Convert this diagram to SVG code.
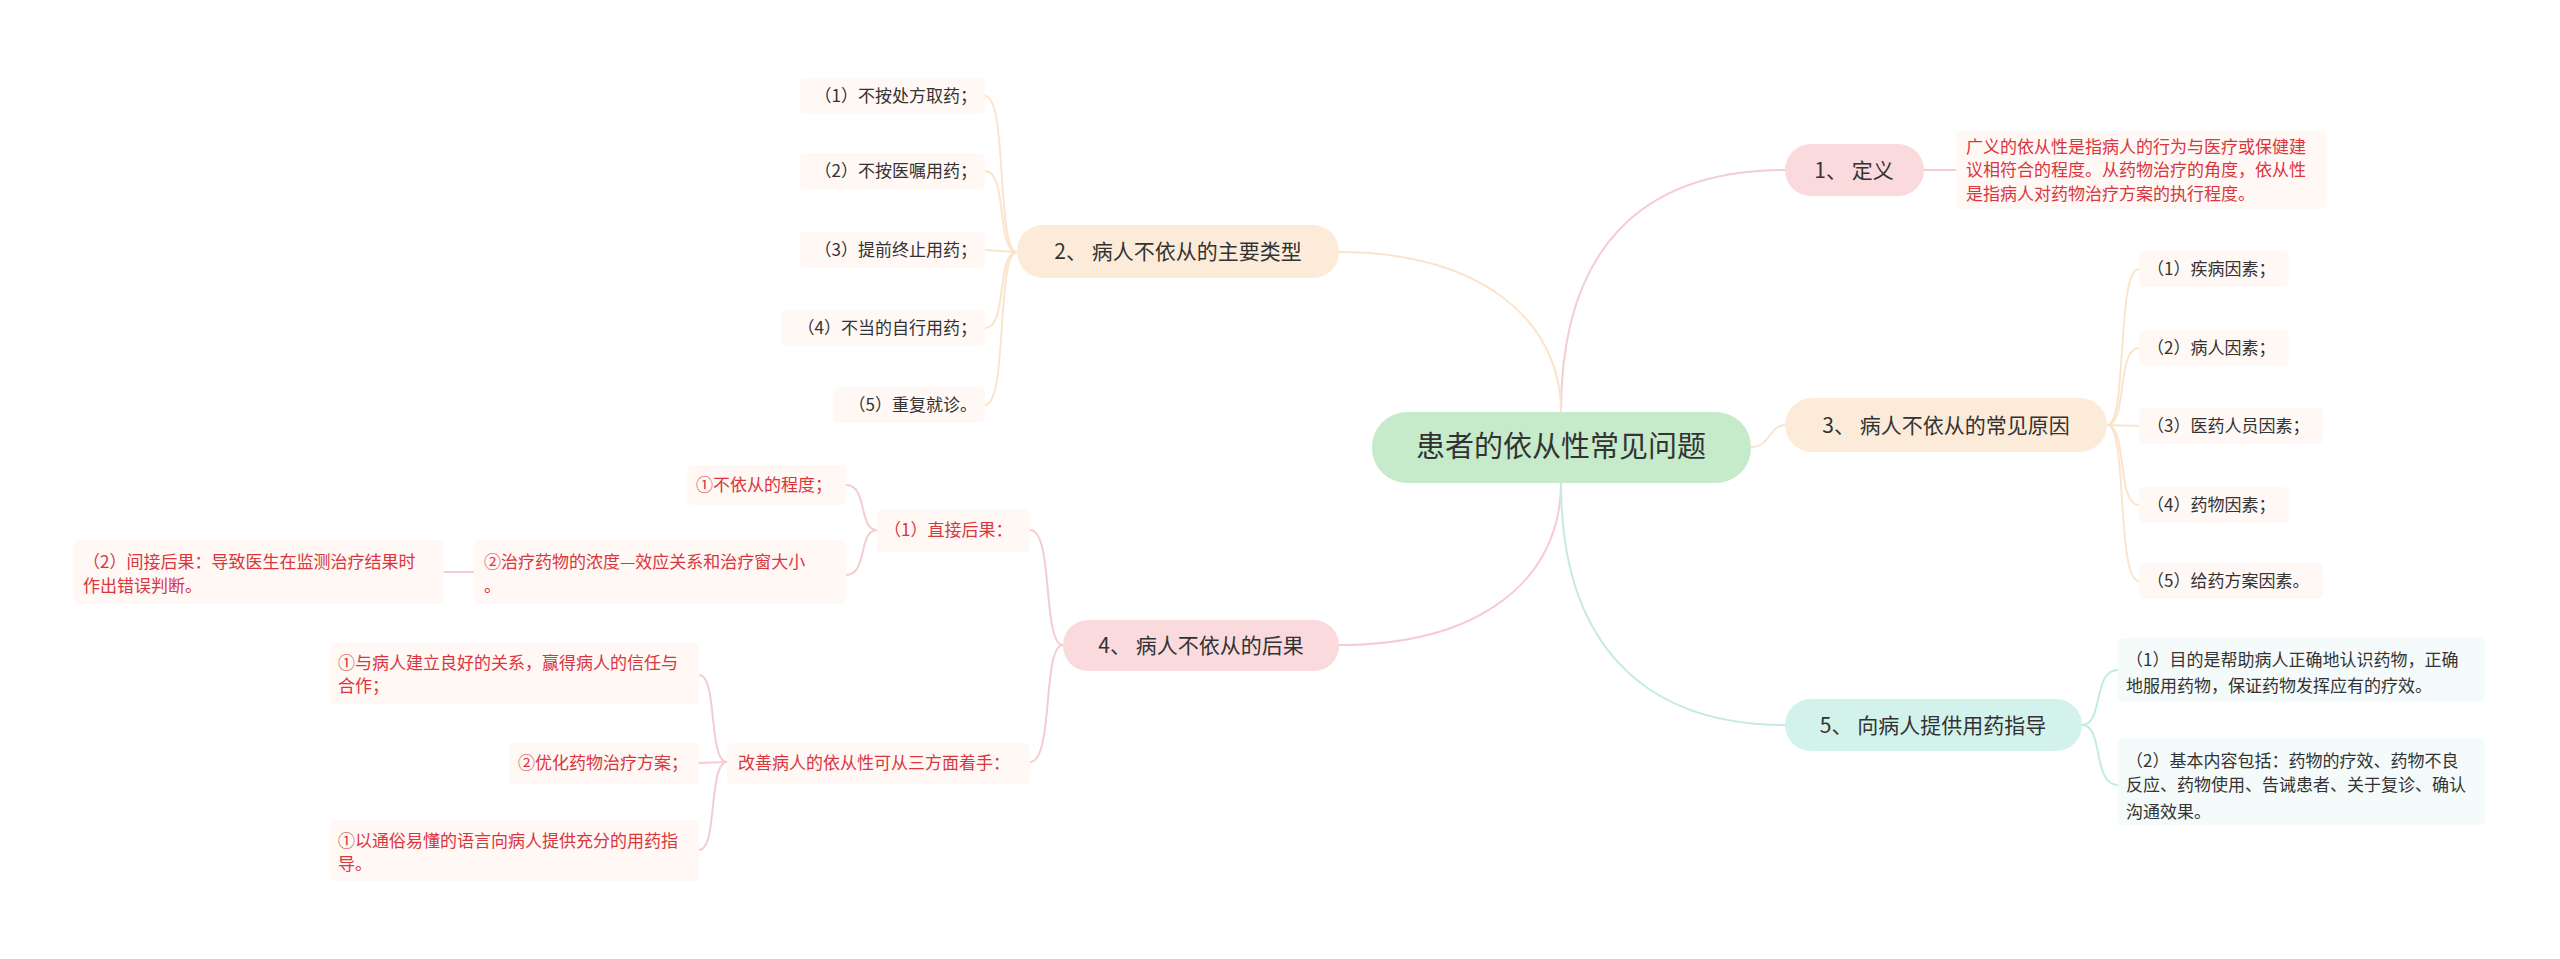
<svg xmlns="http://www.w3.org/2000/svg" width="2560" height="959" viewBox="0 0 2560 959">
<style>
text{font-family:"Noto Sans CJK SC","Liberation Sans",sans-serif;fill:#333}
.c{font-size:29px;text-anchor:middle}
.b{font-size:21px;text-anchor:middle}
.l{font-size:17px}
.r{fill:#d9363e}
.e{text-anchor:end}
.lb{fill:#fff8f5}
.lg{fill:#f4fbfa}
.lines path{fill:none;stroke-width:2}
.pk{stroke:#f5cdd0}.pe{stroke:#fbe4cc}.mt{stroke:#c3ebe2}
</style>
<rect width="2560" height="959" fill="#fff"/>
<g class="lines" id="connectors">
<path class="pk" d="M1561 412 C1561 250,1640 170,1785 170"/>
<path class="pe" d="M1561 412 C1561 320,1480 252,1339 252"/>
<path class="pe" d="M1751 447 C1770 447,1770 425,1785 425"/>
<path class="pk" d="M1561 483 C1561 580,1480 645,1339 645"/>
<path class="mt" d="M1561 483 C1561 640,1640 725,1785 725"/>
<path class="pk" d="M1924 170 L1956 170"/>
<path class="pe" d="M2107 425 C2128 425,2116 269,2139 269 M2107 425 C2128 425,2116 348,2139 348 M2107 425 L2139 426 M2107 425 C2128 425,2116 505,2139 505 M2107 425 C2128 425,2116 581,2139 581"/>
<path class="mt" d="M2082 725 C2104 725,2092 670,2118 670 M2082 725 C2104 725,2092 785,2118 785"/>
<path class="pe" d="M1017 252 C996 252,1008 96,985 96 M1017 252 C996 252,1008 171,985 171 M1017 252 L985 250 M1017 252 C996 252,1008 328,985 328 M1017 252 C996 252,1008 405,985 405"/>
<path class="pk" d="M1063 645 C1042 645,1054 530,1030 530 M1063 645 C1042 645,1054 762,1030 762"/>
<path class="pk" d="M877 530 C858 530,868 485,846 485 M877 530 C858 530,868 575,846 575"/>
<path class="pk" d="M474 572 L444 572"/>
<path class="pk" d="M727 762 C708 762,718 675,699 675 M727 762 L699 763 M727 762 C708 762,718 850,699 850"/>
</g>
<g id="center"><rect x="1372" y="412" width="379" height="71" rx="35" fill="#c5ebca"/><text class="c" x="1561" y="457">患者的依从性常见问题</text></g>
<g id="n1"><rect x="1785" y="144" width="139" height="52" rx="26" fill="#fadadd"/><text class="b" x="1854" y="178">1、 定义</text></g>
<g id="n1a"><rect class="lb" x="1956" y="131" width="371" height="78" rx="5"/><text class="l r" x="1966" y="153">广义的依从性是指病人的行为与医疗或保健建</text><text class="l r" x="1966" y="176">议相符合的程度。从药物治疗的角度，依从性</text><text class="l r" x="1966" y="200">是指病人对药物治疗方案的执行程度。</text></g>
<g id="n3"><rect x="1785" y="398" width="322" height="54" rx="27" fill="#fdebd9"/><text class="b" x="1946" y="433">3、 病人不依从的常见原因</text></g>
<g id="n3a"><rect class="lb" x="2139" y="251" width="150" height="36" rx="5"/><text class="l" x="2147" y="275">（1）疾病因素；</text></g>
<g id="n3b"><rect class="lb" x="2139" y="330" width="150" height="36" rx="5"/><text class="l" x="2147" y="354">（2）病人因素；</text></g>
<g id="n3c"><rect class="lb" x="2139" y="408" width="184" height="36" rx="5"/><text class="l" x="2147" y="432">（3）医药人员因素；</text></g>
<g id="n3d"><rect class="lb" x="2139" y="487" width="150" height="36" rx="5"/><text class="l" x="2147" y="511">（4）药物因素；</text></g>
<g id="n3e"><rect class="lb" x="2139" y="563" width="184" height="36" rx="5"/><text class="l" x="2147" y="587">（5）给药方案因素。</text></g>
<g id="n5"><rect x="1785" y="699" width="297" height="52" rx="26" fill="#d3f2ec"/><text class="b" x="1933" y="733">5、 向病人提供用药指导</text></g>
<g id="n5a"><rect class="lg" x="2118" y="638" width="367" height="64" rx="5"/><text class="l" x="2126" y="666">（1）目的是帮助病人正确地认识药物，正确</text><text class="l" x="2126" y="692">地服用药物，保证药物发挥应有的疗效。</text></g>
<g id="n5b"><rect class="lg" x="2118" y="738" width="367" height="87" rx="5"/><text class="l" x="2126" y="767">（2）基本内容包括：药物的疗效、药物不良</text><text class="l" x="2126" y="791">反应、药物使用、告诫患者、关于复诊、确认</text><text class="l" x="2126" y="818">沟通效果。</text></g>
<g id="n2"><rect x="1017" y="225" width="322" height="53" rx="26" fill="#fdebd9"/><text class="b" x="1178" y="259">2、 病人不依从的主要类型</text></g>
<g id="n2a"><rect class="lb" x="800" y="78" width="185" height="36" rx="5"/><text class="l e" x="977" y="102">（1）不按处方取药；</text></g>
<g id="n2b"><rect class="lb" x="800" y="153" width="185" height="36" rx="5"/><text class="l e" x="977" y="177">（2）不按医嘱用药；</text></g>
<g id="n2c"><rect class="lb" x="800" y="232" width="185" height="36" rx="5"/><text class="l e" x="977" y="256">（3）提前终止用药；</text></g>
<g id="n2d"><rect class="lb" x="781" y="310" width="204" height="36" rx="5"/><text class="l e" x="977" y="334">（4）不当的自行用药；</text></g>
<g id="n2e"><rect class="lb" x="833" y="387" width="152" height="36" rx="5"/><text class="l e" x="977" y="411">（5）重复就诊。</text></g>
<g id="n4"><rect x="1063" y="620" width="276" height="51" rx="25" fill="#fadadd"/><text class="b" x="1201" y="653">4、 病人不依从的后果</text></g>
<g id="n4a"><rect class="lb" x="877" y="509" width="153" height="43" rx="5"/><text class="l r" x="884" y="536">（1）直接后果：</text></g>
<g id="n4a1"><rect class="lb" x="687" y="465" width="159" height="40" rx="5"/><text class="l r" x="696" y="491">①不依从的程度；</text></g>
<g id="n4a2"><rect class="lb" x="474" y="540" width="372" height="64" rx="5"/><text class="l r" x="484" y="568">②治疗药物的浓度—效应关系和治疗窗大小</text><text class="l r" x="484" y="592">。</text></g>
<g id="n4a3"><rect class="lb" x="73" y="540" width="371" height="64" rx="5"/><text class="l r" x="83" y="568">（2）间接后果：导致医生在监测治疗结果时</text><text class="l r" x="83" y="592">作出错误判断。</text></g>
<g id="n4b"><rect class="lb" x="727" y="743" width="303" height="41" rx="5"/><text class="l r" x="738" y="769">改善病人的依从性可从三方面着手：</text></g>
<g id="n4b1"><rect class="lb" x="330" y="643" width="369" height="61" rx="5"/><text class="l r" x="338" y="669">①与病人建立良好的关系，赢得病人的信任与</text><text class="l r" x="338" y="692">合作；</text></g>
<g id="n4b2"><rect class="lb" x="509" y="743" width="190" height="41" rx="5"/><text class="l r" x="518" y="769">②优化药物治疗方案；</text></g>
<g id="n4b3"><rect class="lb" x="330" y="820" width="369" height="61" rx="5"/><text class="l r" x="338" y="847">①以通俗易懂的语言向病人提供充分的用药指</text><text class="l r" x="338" y="870">导。</text></g>
</svg>
